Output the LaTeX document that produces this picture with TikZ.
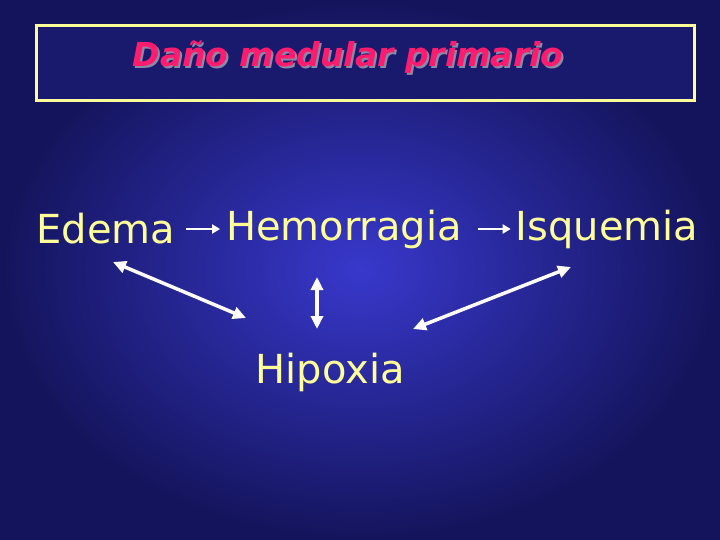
\documentclass[tikz,border=0pt]{standalone}
\usepackage{fontspec}
\setmainfont{DejaVu Sans}
\usetikzlibrary{positioning}
\usetikzlibrary{arrows.meta}

\definecolor{fondo}{HTML}{3838CC}
\definecolor{borde}{HTML}{14145C}
\definecolor{amarillo}{HTML}{FFFF99}
\definecolor{rosa}{HTML}{FF1C6E}
\definecolor{sombra}{HTML}{8A8AA8}

\begin{document}
\begin{tikzpicture}[
        x=1pt, y=-1pt,
        termino/.style = {
            text = amarillo,
            font = \fontsize{40}{46}\selectfont,
            inner sep = 0pt,
            outer sep = 0pt
        },
        flechita/.style = {
            -{Triangle[length=8pt,width=9pt]},
            line width = 2.5pt,
            white
        },
        doble/.style = {
            {Triangle[length=13pt,width=12pt]}-{Triangle[length=13pt,width=12pt]},
            line width = 3.5pt,
            white
        }
            ]
            % fondo
            \shade[inner color=fondo, outer color=borde] (0,0) rectangle (720,540);
            \useasboundingbox (0,0) rectangle (720,540);
            
            % titulo
            \draw[line width = 3pt, amarillo, fill=borde!85!fondo] (36,26) rectangle (694,101);
            \node[text=rosa, font=\fontsize{33}{38}\selectfont\bfseries\itshape] (titulo) at (348,58)
                {\rlap{\hspace{2pt}\raisebox{-2pt}{\color{sombra}Daño medular primario}}Daño medular primario};
            
            % terminos
            \node[termino] (edema) at (106,229) {Edema};
            \node[termino] (hemorragia) at (344,229) {Hemorragia};
            \node[termino] (isquemia) at (607,229) {Isquemia};
            \node[termino] (hipoxia) at (330,372) {Hipoxia};
            
            \draw[flechita, shorten <= 11pt, shorten >= 6pt] (edema.east) -- (hemorragia.west);
            \draw[flechita, shorten <= 16pt, shorten >= 5pt] (hemorragia.east) -- (isquemia.west);
            
            \coordinate (e1) at (113,262);
            \coordinate (e2) at (246,318);
            \coordinate (h1) at (317,277);
            \coordinate (h2) at (317,329);
            \coordinate (i1) at (571,267);
            \coordinate (i2) at (413,329);
            
            \draw[doble] (e1) -- (e2);
            \draw[doble] (h1) -- (h2);
            \draw[doble] (i1) -- (i2);
            
        \end{tikzpicture}
\end{document}
